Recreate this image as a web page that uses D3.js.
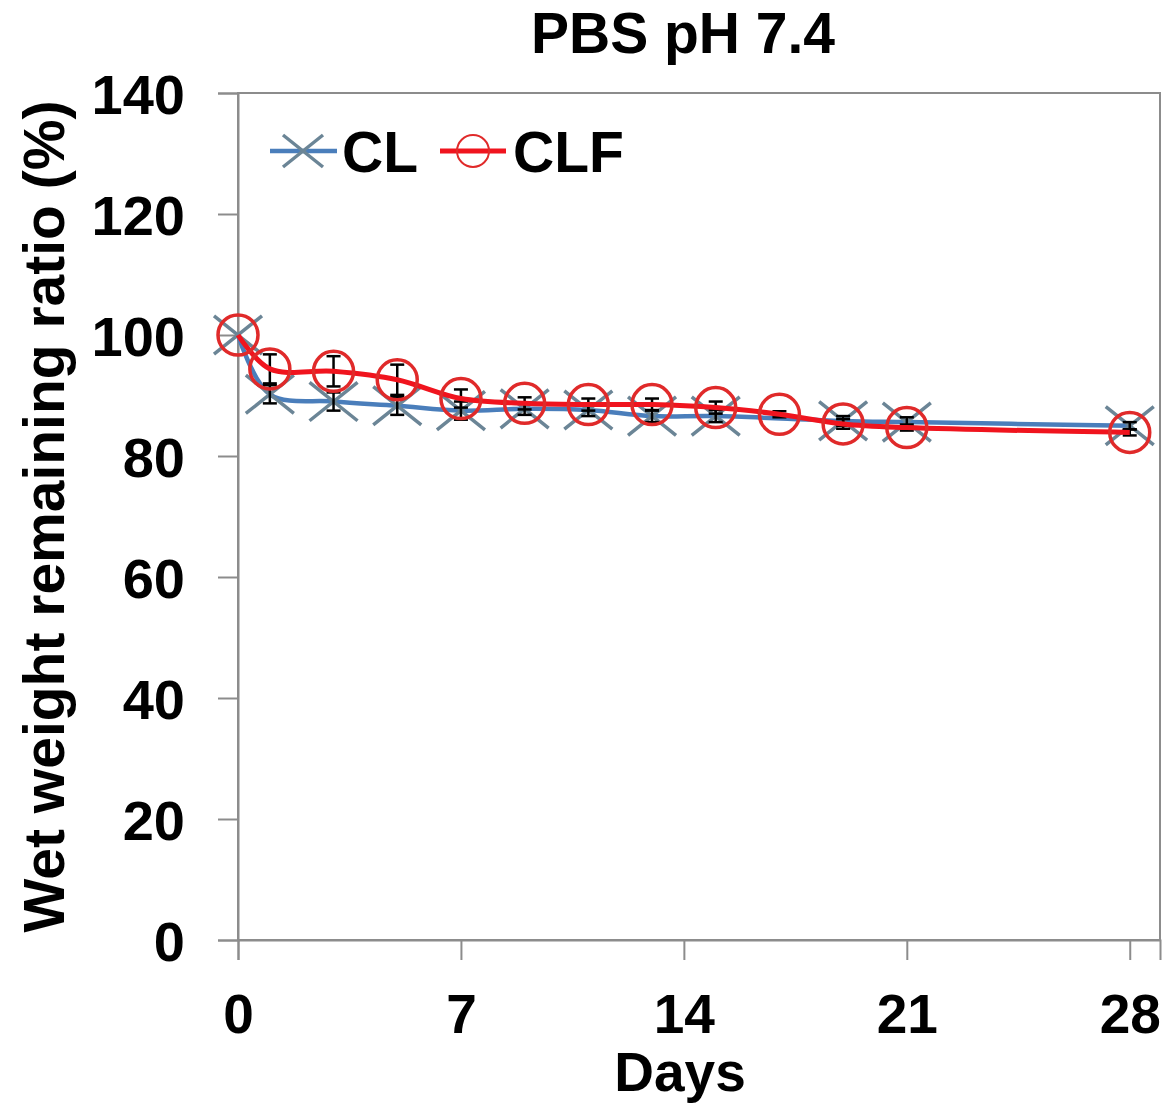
<!DOCTYPE html>
<html lang="en">
<head>
<meta charset="UTF-8">
<title>PBS pH 7.4</title>
<script src="https://cdnjs.cloudflare.com/ajax/libs/d3/7.8.5/d3.min.js"></script>
<style>
  body { margin: 0; background: #fff; }
  svg text { font-family: "Liberation Sans", Arial, sans-serif; font-weight: bold; fill: #000; }
</style>
</head>
<body>
<div id="chart"></div>
<script>
// data
var daysCL  = [0, 1, 3, 5, 7, 9, 11, 13, 15, 19, 21, 28];
var valsCL  = [100, 90.2, 89.0, 88.3, 87.5, 87.8, 87.6, 86.6, 86.6, 85.8, 85.6, 85.0];
var errsCL  = [0, 1.5, 1.5, 1.5, 1.5, 1.0, 1.0, 1.0, 1.0, 0.8, 0.8, 0.6];

var daysCLF = [0, 1, 3, 5, 7, 9, 11, 13, 15, 17, 19, 21, 28];
var valsCLF = [100, 94.4, 94.0, 92.6, 89.5, 88.7, 88.5, 88.5, 88.0, 86.9, 85.3, 84.7, 83.9];
var errsCLF = [0, 2.4, 2.5, 2.5, 1.5, 1.0, 1.0, 1.0, 1.0, 0.5, 0.8, 0.5, 0.5];

var xTicks = [0, 7, 14, 21, 28];
var yTicks = [0, 20, 40, 60, 80, 100, 120, 140];

var width = 1175, height = 1107;
var margin = { left: 238, right: 15, top: 93, bottom: 167 };

var svg = d3.select("#chart").append("svg")
  .attr("width", width)
  .attr("height", height);

var x = d3.scaleLinear().domain([0, 28.95]).range([margin.left, width - margin.right]);
var y = d3.scaleLinear().domain([0, 140]).range([height - margin.bottom, margin.top]);

var blue = "#4a7ebb", crossColor = "#6b8596", red = "#f0141e";

// plot border
svg.append("rect")
  .attr("x", x(0)).attr("y", y(140))
  .attr("width", x(28.95) - x(0)).attr("height", y(0) - y(140))
  .attr("fill", "none").attr("stroke", "#8c8c8c").attr("stroke-width", 2);

// axes
var xAxis = svg.append("g")
  .attr("transform", "translate(0," + y(0) + ")")
  .call(d3.axisBottom(x).tickValues(xTicks).tickSize(20).tickPadding(34));
var yAxis = svg.append("g")
  .attr("transform", "translate(" + x(0) + ",0)")
  .call(d3.axisLeft(y).tickValues(yTicks).tickSize(20).tickPadding(33));
[xAxis, yAxis].forEach(function (g) {
  g.select(".domain").attr("stroke", "#8c8c8c").attr("stroke-width", 2);
  g.selectAll(".tick line").attr("stroke", "#8c8c8c").attr("stroke-width", 2);
  g.selectAll(".tick text").attr("font-size", 56).attr("font-family", null).attr("fill", "#000");
});
yAxis.selectAll(".tick text").attr("dy", "0.36em");
xAxis.selectAll(".tick text").attr("font-size", 55);

// titles
svg.append("text").attr("x", 683).attr("y", 53).attr("text-anchor", "middle")
  .attr("font-size", 57).text("PBS pH 7.4");
svg.append("text").attr("x", 680).attr("y", 1091).attr("text-anchor", "middle")
  .attr("font-size", 55).text("Days");
svg.append("text")
  .attr("transform", "translate(64," + ((y(0) + y(140)) / 2) + ") rotate(-90)")
  .attr("text-anchor", "middle").attr("font-size", 57)
  .text("Wet weight remaining ratio (%)");

var line = d3.line().curve(d3.curveCatmullRom.alpha(0.5))
  .x(function (d) { return x(d[0]); })
  .y(function (d) { return y(d[1]); });

function drawErrors(days, vals, errs) {
  var g = svg.append("g").attr("stroke", "#000").attr("stroke-width", 2.5);
  days.forEach(function (d, i) {
    if (!errs[i]) return;
    var cx = x(d), y1 = y(vals[i] + errs[i]), y2 = y(vals[i] - errs[i]);
    g.append("line").attr("x1", cx).attr("x2", cx).attr("y1", y1).attr("y2", y2);
    g.append("line").attr("x1", cx - 7).attr("x2", cx + 7).attr("y1", y1).attr("y2", y1);
    g.append("line").attr("x1", cx - 7).attr("x2", cx + 7).attr("y1", y2).attr("y2", y2);
  });
}

function cross(g, cx, cy, s) {
  g.append("path")
    .attr("d", "M" + (cx - s) + "," + (cy - s * 0.8) + "L" + (cx + s) + "," + (cy + s * 0.8) +
               "M" + (cx - s) + "," + (cy + s * 0.8) + "L" + (cx + s) + "," + (cy - s * 0.8))
    .attr("stroke", crossColor).attr("stroke-width", 3.5).attr("fill", "none");
}

// CL series
var clPts = daysCL.map(function (d, i) { return [d, valsCL[i]]; });
svg.append("path").datum(clPts).attr("d", line)
  .attr("fill", "none").attr("stroke", blue).attr("stroke-width", 4.5);
var gCL = svg.append("g");
clPts.forEach(function (p) { cross(gCL, x(p[0]), y(p[1]), 24); });
drawErrors(daysCL, valsCL, errsCL);

// CLF series
var clfPts = daysCLF.map(function (d, i) { return [d, valsCLF[i]]; });
drawErrors(daysCLF, valsCLF, errsCLF);
svg.append("path").datum(clfPts).attr("d", line)
  .attr("fill", "none").attr("stroke", red).attr("stroke-width", 5);
svg.append("g").selectAll("circle").data(clfPts).enter().append("circle")
  .attr("cx", function (d) { return x(d[0]); })
  .attr("cy", function (d) { return y(d[1]); })
  .attr("r", 20)
  .attr("fill", "none").attr("stroke", "#e02a2a").attr("stroke-width", 3.5);

// legend
var lg = svg.append("g");
lg.append("line").attr("x1", 270).attr("x2", 337).attr("y1", 151).attr("y2", 151)
  .attr("stroke", blue).attr("stroke-width", 4.5);
cross(lg, 303, 151, 20);
lg.append("text").attr("x", 342).attr("y", 172).attr("font-size", 57).text("CL");
lg.append("line").attr("x1", 440).attr("x2", 506).attr("y1", 151).attr("y2", 151)
  .attr("stroke", red).attr("stroke-width", 5);
lg.append("circle").attr("cx", 473).attr("cy", 151).attr("r", 16)
  .attr("fill", "none").attr("stroke", "#e02a2a").attr("stroke-width", 2);
lg.append("text").attr("x", 513).attr("y", 172).attr("font-size", 57).text("CLF");
</script>
</body>
</html>
